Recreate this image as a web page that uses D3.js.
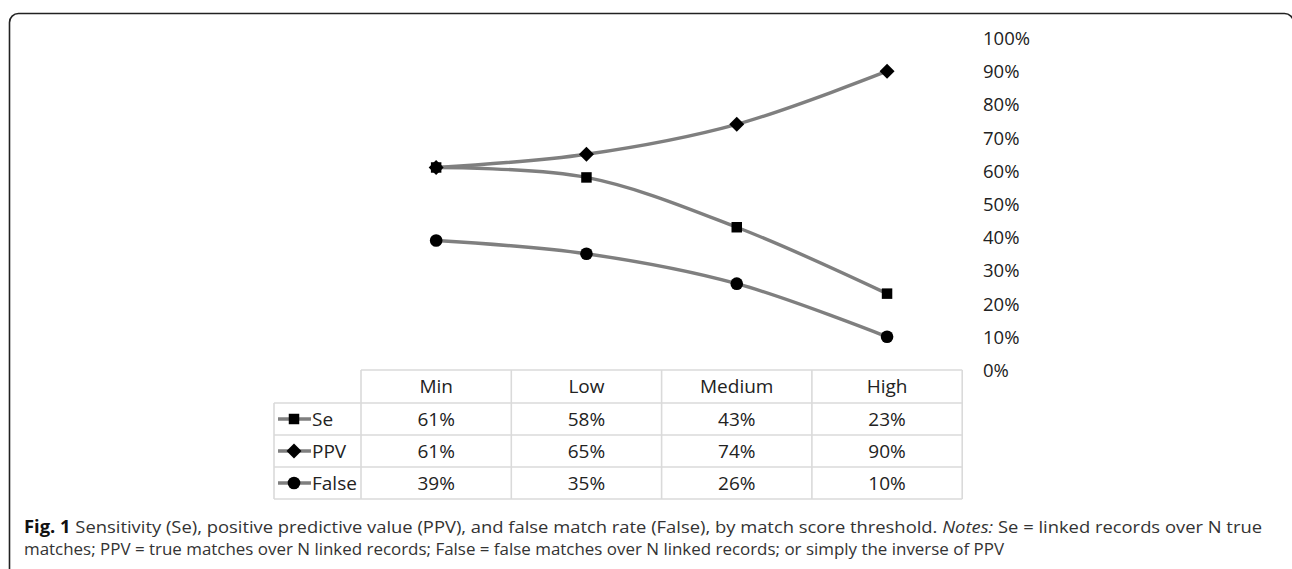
<!DOCTYPE html>
<html><head><meta charset="utf-8">
<script src="https://cdn.jsdelivr.net/npm/d3@7"></script>
<style>body{margin:0;background:#fff}svg{display:block}</style>
</head><body>
<script>
const categories = ["Min","Low","Medium","High"];
const seriesNames = ["Se","PPV","False"];
const seValues = [61,58,43,23];
const ppvValues = [61,65,74,90];
const falseValues = [39,35,26,10];
const yTicks = [0,10,20,30,40,50,60,70,80,90,100];
const captionLine1 = [
  {t:"Fig. 1", w:"bold", s:"normal", c:"#111"},
  {t:" Sensitivity (Se), positive predictive value (PPV), and false match rate (False), by match score threshold. ", w:"normal", s:"normal", c:"#333"},
  {t:"Notes:", w:"normal", s:"italic", c:"#333"},
  {t:" Se = linked records over N true", w:"normal", s:"normal", c:"#333"}
];
const captionLine2 = "matches; PPV = true matches over N linked records; False = false matches over N linked records; or simply the inverse of PPV";

const series = [
  {name:seriesNames[0], values:seValues, marker:"square"},
  {name:seriesNames[1], values:ppvValues, marker:"diamond"},
  {name:seriesNames[2], values:falseValues, marker:"circle"}
];

const W=1292,H=569;
const svg=d3.select("body").append("svg").attr("width",W).attr("height",H);
const FONT="'Open Sans', sans-serif";
const FS=19;

// border
svg.append("rect").attr("x",9.5).attr("y",13.5).attr("width",1284).attr("height",640)
  .attr("rx",9).attr("fill","none").attr("stroke","#222").attr("stroke-width",1.6);

const tableLeft=274, legendColW=87, colW=150.3;
const x=d3.scaleBand().domain(categories).range([tableLeft+legendColW, tableLeft+legendColW+colW*4]);
const y=d3.scaleLinear().domain([0,100]).range([370,38]);

// y axis labels
const yAxis=d3.axisRight(y).tickValues(yTicks).tickFormat(d=>d+"%").tickSize(0).tickPadding(0);
const ga=svg.append("g").attr("transform","translate(983,0)").call(yAxis);
ga.select(".domain").remove();
ga.selectAll("text").attr("font-family",FONT).attr("font-size",18.5).attr("fill","#222").attr("dy","0.35em");

const line=d3.line().x((d,i)=>x(categories[i])+x.bandwidth()/2).y(d=>y(d)).curve(d3.curveCatmullRom.alpha(0.5));

const sym={square:d3.symbol().type(d3.symbolSquare).size(110),
  diamond:d3.symbol().type(d3.symbolSquare).size(112),
  circle:d3.symbol().type(d3.symbolCircle).size(125)};
function drawMarker(g,type,cx,cy){
  const p=g.append("path").attr("d",sym[type]()).attr("fill","#000");
  if(type==="diamond") p.attr("transform",`translate(${cx},${cy}) rotate(45)`);
  else p.attr("transform",`translate(${cx},${cy})`);
}

const gl=svg.append("g");
series.forEach(s=>{
  gl.append("path").attr("d",line(s.values)).attr("fill","none").attr("stroke","#7f7f7f").attr("stroke-width",3.4);
});
series.forEach(s=>{
  s.values.forEach((v,i)=>drawMarker(gl,s.marker,x(categories[i])+x.bandwidth()/2,y(v)));
});

// table
const rowTops=[370,403,435,467,499];
const gt=svg.append("g");
const gridC="#dadada";
const tRight=tableLeft+legendColW+colW*4;
rowTops.forEach((ry,i)=>{
  gt.append("line").attr("x1",i===0?tableLeft+legendColW:tableLeft).attr("x2",tRight).attr("y1",ry).attr("y2",ry).attr("stroke",gridC).attr("stroke-width",1.6);
});
gt.append("line").attr("x1",tableLeft).attr("x2",tableLeft).attr("y1",rowTops[1]).attr("y2",rowTops[4]).attr("stroke",gridC).attr("stroke-width",1.6);
[0,1,2,3,4].forEach(i=>{
  const vx=tableLeft+legendColW+colW*i;
  gt.append("line").attr("x1",vx).attr("x2",vx).attr("y1",rowTops[0]).attr("y2",rowTops[4]).attr("stroke",gridC).attr("stroke-width",1.6);
});
categories.forEach(c=>{
  gt.append("text").attr("x",x(c)+x.bandwidth()/2).attr("y",(rowTops[0]+rowTops[1])/2).attr("dy","0.35em")
    .attr("text-anchor","middle").attr("font-family",FONT).attr("font-size",FS).attr("fill","#222").text(c);
});
series.forEach((s,r)=>{
  const cy=(rowTops[r+1]+rowTops[r+2])/2;
  gt.append("line").attr("x1",tableLeft+4).attr("x2",tableLeft+37).attr("y1",cy).attr("y2",cy).attr("stroke","#7f7f7f").attr("stroke-width",3.4);
  drawMarker(gt,s.marker,tableLeft+20,cy);
  gt.append("text").attr("x",tableLeft+38).attr("y",cy).attr("dy","0.35em").attr("font-family",FONT).attr("font-size",FS).attr("fill","#222").text(s.name);
  s.values.forEach((v,i)=>{
    gt.append("text").attr("x",x(categories[i])+x.bandwidth()/2).attr("y",cy).attr("dy","0.35em")
      .attr("text-anchor","middle").attr("font-family",FONT).attr("font-size",FS).attr("fill","#222").text(v+"%");
  });
});

// caption
const cap1=svg.append("text").attr("x",24).attr("y",533).attr("font-family",FONT).attr("font-size",17);
captionLine1.forEach(p=>cap1.append("tspan").attr("font-weight",p.w).attr("font-style",p.s).attr("fill",p.c).text(p.t));
const cap2=svg.append("text").attr("x",24).attr("y",555).attr("font-family",FONT).attr("font-size",17).attr("fill","#333").text(captionLine2);
cap1.attr("textLength",1238).attr("lengthAdjust","spacingAndGlyphs");
cap2.attr("textLength",980).attr("lengthAdjust","spacingAndGlyphs");
</script>
</body></html>
